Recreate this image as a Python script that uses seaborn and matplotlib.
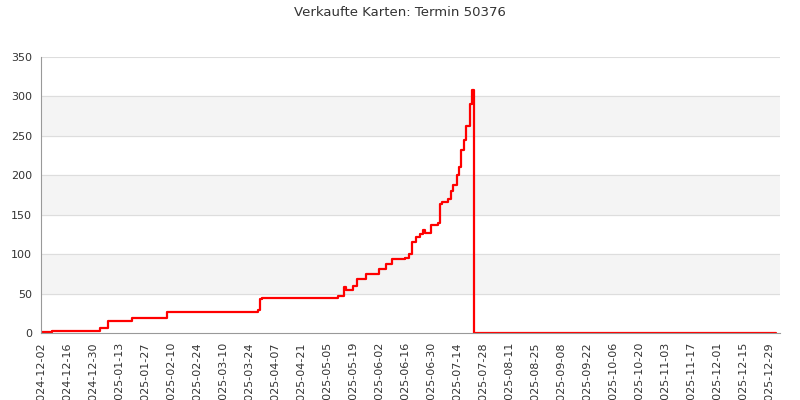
import matplotlib
matplotlib.use("Agg")
import matplotlib.pyplot as plt
import matplotlib.dates as mdates
import seaborn as sns
import pandas as pd
import numpy as np

start = "2024-12-02"
change_days = [0,6,32,36,49,68,117,118,119,160,163,164,168,170,175,182,186,189,196,198,200,202,204,206,207,210,214,215,216,219,221,222,224,225,226,228,229,231,232,233,396]
change_vals = [1,3,6,15,19,26,29,43,44,47,58,55,60,68,75,81,87,94,95,100,115,122,126,130,127,137,140,163,166,170,180,188,200,210,232,245,262,290,305,308,0,0]
change_vals = change_vals[:len(change_days)]
change_vals[-2] = 308; change_vals[-1] = 0
# ensure ending zero series
dates = pd.to_datetime(start) + pd.to_timedelta(change_days, unit="D")
df = pd.DataFrame({"date": dates, "sold": change_vals})
df.loc[df.index[-1], "sold"] = 0
df.loc[df.index[-2], "sold"] = 0
df.loc[df.index[-3], "sold"] = 308

sns.set_style("white")
fig = plt.figure(figsize=(8, 4), dpi=100)
ax = fig.add_axes([41/800, 1-333/400, (780-41)/800, (333-57)/400])
for lo in (50, 150, 250):
    ax.axhspan(lo, lo+50, color="#f4f4f4", zorder=0)
for y in range(50, 351, 50):
    ax.axhline(y, color="#dddddd", lw=0.8, zorder=0.5)
sns.lineplot(data=df, x="date", y="sold", ax=ax, color="red", lw=1.6, drawstyle="steps-post")
ax.set_xlim(pd.Timestamp(start), pd.Timestamp(start) + pd.Timedelta(days=398))
ax.set_ylim(0, 350)
ax.set_yticks(range(0, 351, 50))
ticks = pd.date_range(start, periods=29, freq="14D")
ax.set_xticks(ticks)
ax.xaxis.set_major_formatter(mdates.DateFormatter("%Y-%m-%d"))
ax.tick_params(axis="x", rotation=90, labelsize=8, colors="#333333", length=3)
ax.tick_params(axis="y", labelsize=8, colors="#333333", length=3)
for s in ("top", "right"):
    ax.spines[s].set_visible(False)
for s in ("left", "bottom"):
    ax.spines[s].set_color("#999999")
ax.set_xlabel(""); ax.set_ylabel("")
fig.suptitle("Verkaufte Karten: Termin 50376", y=0.985, fontsize=9.5, color="#333333")
fig.savefig("out.png", dpi=100)
